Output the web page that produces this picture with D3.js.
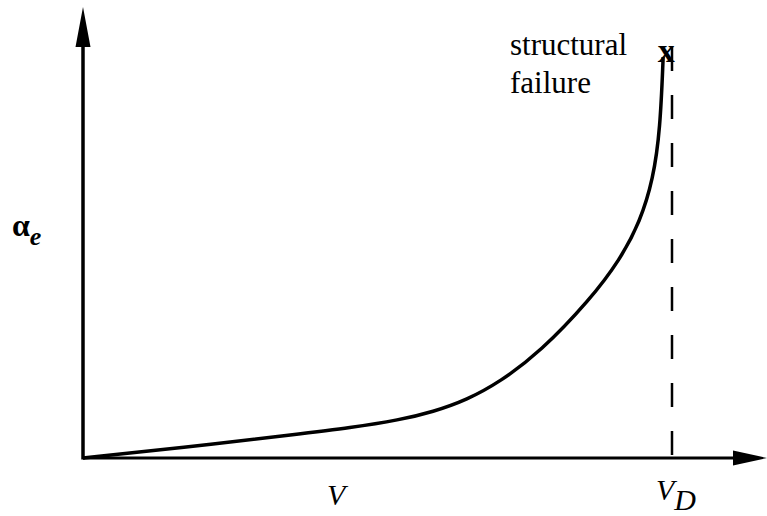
<!DOCTYPE html>
<html>
<head>
<meta charset="utf-8">
<script src="https://cdn.jsdelivr.net/npm/d3@7"></script>
<style>
body { margin: 0; background: #fff; }
text { font-family: "Liberation Serif", "Times New Roman", serif; fill: #000; }
</style>
</head>
<body>
<div id="chart"></div>
<script>
// curve (V as % of V_D, alpha_e as % of top)
var speedV = [0, 16.5, 36.8, 45.3, 53.8, 59.4, 65.2, 70.8, 77.6, 86.1, 91.2, 94.6, 96.8, 98, 98.5];
var alphaE = [0, 2.5, 6, 7.5, 9.5, 11.5, 14.5, 19, 26.4, 39.5, 49.5, 59, 69.5, 82, 100];
var divergenceV = 100;
var failureLabel = ["structural", "failure"];

var width = 767, height = 516;

var svg = d3.select("#chart")
	.append("svg")
	.attr("width", width)
	.attr("height", height);

var x = d3.scaleLinear()
	.domain([0, 100])
	.range([83, 672]);

var y = d3.scaleLinear()
	.domain([0, 100])
	.range([458, 57]);

// axes
svg.append("line")
	.attr("x1", x(0)).attr("y1", y(0))
	.attr("x2", 740).attr("y2", y(0))
	.attr("stroke", "black").attr("stroke-width", 3);

svg.append("line")
	.attr("x1", x(0)).attr("y1", y(0) + 1.5)
	.attr("x2", x(0)).attr("y2", 40)
	.attr("stroke", "black").attr("stroke-width", 3.5);

// arrow heads
svg.append("path")
	.attr("d", "M" + x(0) + ",7 L" + (x(0) - 7.5) + ",47 L" + (x(0) + 7.5) + ",47 Z")
	.attr("fill", "black");

svg.append("path")
	.attr("d", "M767," + y(0) + " L733," + (y(0) - 7.5) + " L733," + (y(0) + 7.5) + " Z")
	.attr("fill", "black");

// divergence speed
svg.append("line")
	.attr("x1", x(divergenceV)).attr("y1", 47)
	.attr("x2", x(divergenceV)).attr("y2", y(0))
	.attr("stroke", "black").attr("stroke-width", 2.5)
	.attr("stroke-dasharray", "24,24");

var data = speedV.map((v, i) => [v, alphaE[i]]);

svg.append("path")
	.datum(data)
	.attr("fill", "none")
	.attr("stroke", "black")
	.attr("stroke-width", 3.5)
	.attr("d", d3.line()
		.x(d => x(d[0]))
		.y(d => y(d[1]))
		.curve(d3.curveBasis));

// failure mark
var last = data[data.length - 1];
svg.append("text")
	.attr("x", x(last[0]) + 3)
	.attr("y", y(last[1]) + 5)
	.attr("text-anchor", "middle")
	.style("font-size", "34px")
	.style("font-weight", "bold")
	.text("x");

svg.append("text")
	.attr("x", 510)
	.attr("y", 55)
	.style("font-size", "31px")
	.selectAll("tspan")
	.data(failureLabel)
	.join("tspan")
	.attr("x", 510)
	.attr("dy", (d, i) => i ? 38 : 0)
	.text(d => d);

// labels
var yl = svg.append("text")
	.attr("x", 12)
	.attr("y", 236)
	.style("font-size", "32px")
	.style("font-weight", "bold");
yl.append("tspan").text("α");
yl.append("tspan")
	.attr("dy", 9)
	.style("font-size", "26px")
	.style("font-style", "italic")
	.text("e");

svg.append("text")
	.attr("x", 327)
	.attr("y", 505)
	.style("font-size", "30px")
	.style("font-style", "italic")
	.text("V");

var vd = svg.append("text")
	.attr("x", 656)
	.attr("y", 500)
	.style("font-size", "30px")
	.style("font-style", "italic");
vd.append("tspan").text("V");
vd.append("tspan").attr("dy", 10).text("D");
</script>
</body>
</html>
